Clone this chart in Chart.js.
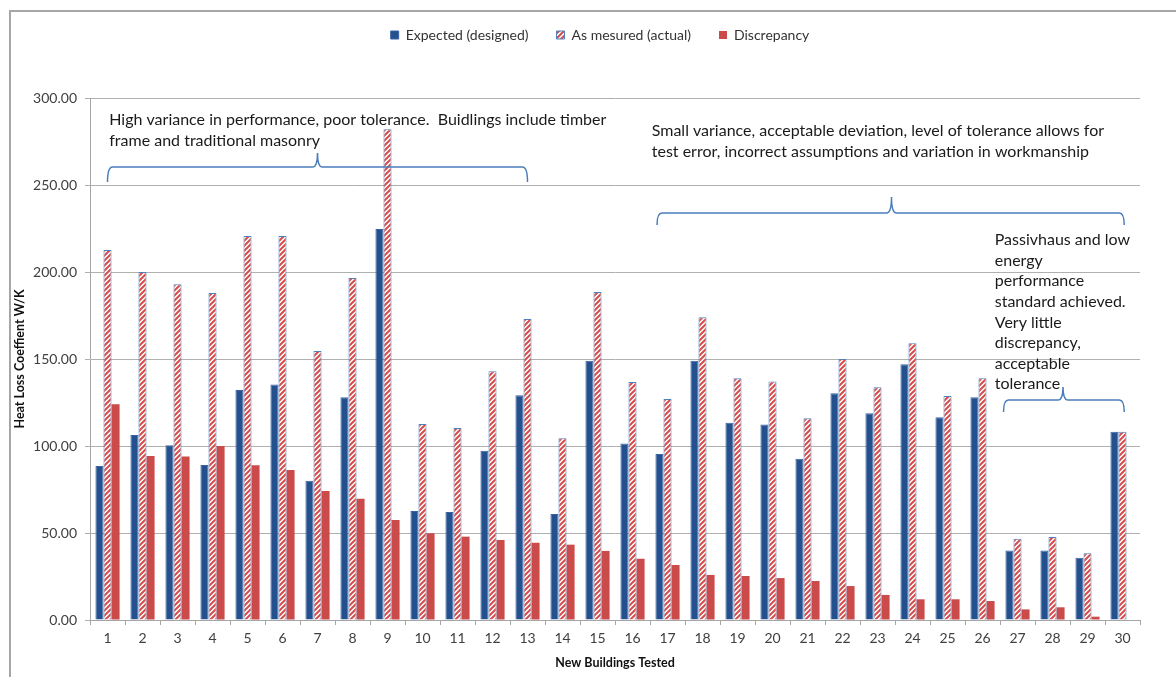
<!DOCTYPE html>
<html>
<head>
<meta charset="utf-8">
<script src="https://cdn.jsdelivr.net/npm/chart.js@4.4.1/dist/chart.umd.min.js"></script>
<style>
  html, body { margin: 0; padding: 0; background: #fff; }
  #wrap { width: 1176px; height: 677px; }
</style>
</head>
<body>
<div id="wrap"><canvas id="myChart"></canvas></div>
<script>
const buildings = ['1','2','3','4','5','6','7','8','9','10','11','12','13','14','15','16','17','18','19','20','21','22','23','24','25','26','27','28','29','30'];
const expected = [88.5, 106.3, 100.4, 89.1, 132.2, 135.4, 80, 128, 224.7, 62.6, 62, 97.3, 129.1, 60.9, 149, 101.5, 95.4, 149, 113.4, 112.3, 92.7, 130.3, 118.8, 147, 116.5, 128, 40, 40, 35.8, 108.2];
const actual = [212.6, 200, 193, 188, 220.7, 220.7, 154.6, 196.5, 282, 112.6, 110.3, 143, 173, 104.4, 188.5, 136.8, 127, 174, 139, 137, 115.9, 150, 133.7, 159, 128.7, 139, 46.7, 47.7, 38.3, 108.2];
const discrepancy = [124, 94.3, 93.9, 100, 89, 86.2, 74.1, 69.7, 57.5, 49.8, 47.9, 46, 44.4, 43.3, 39.7, 35.2, 31.6, 25.9, 25.3, 24.1, 22.4, 19.5, 14.4, 11.9, 11.9, 10.9, 6.1, 7.3, 1.9, 0];

// notes: [x index, y value of first line, lines]
const notes = [
  [0.05, 287.5, ['High variance in performance, poor tolerance.  Buidlings include timber', 'frame and traditional masonry']],
  [15.55, 281, ['Small variance, acceptable deviation, level of tolerance allows for', 'test error, incorrect assumptions and variation in workmanship']],
  [25.35, 218.4, ['Passivhaus and low', 'energy', 'performance', 'standard achieved.', 'Very little', 'discrepancy,', 'acceptable', 'tolerance']]
];
// braces: [from index, to index, tip index, line value, end value, tip value]
const braces = [
  [0, 12, 6, 260.3, 251.7, 268.4],
  [15.7, 29.05, 22.4, 233.9, 227, 243.1],
  [25.6, 29.05, 27.3, 126.4, 119.5, 133.9]
];

const FONT = 'Lato, "Open Sans", sans-serif';

function hatch() {
  const c = document.createElement('canvas');
  c.width = 5; c.height = 5;
  const g = c.getContext('2d');
  g.fillStyle = '#fff';
  g.fillRect(0, 0, 5, 5);
  g.strokeStyle = '#D64C4A';
  g.lineWidth = 2;
  g.beginPath();
  g.moveTo(-1, 6); g.lineTo(6, -1);
  g.moveTo(-3.5, 3.5); g.lineTo(3.5, -3.5);
  g.moveTo(1.5, 8.5); g.lineTo(8.5, 1.5);
  g.stroke();
  return g.createPattern(c, 'repeat');
}

const extras = {
  id: 'extras',
  beforeInit(chart) {
    const fit = chart.legend.fit;
    chart.legend.fit = function() {
      fit.call(this);
      this.height = 98;
    };
  },
  beforeDraw(chart) {
    // legend sits centred on the page, not on the padded box
    const lg = chart.legend;
    const w = lg.right - lg.left;
    lg.left = chart.width / 2 + 12 - w / 2;
    lg.right = lg.left + w;

    const ctx = chart.ctx;
    ctx.save();
    ctx.fillStyle = '#fff';
    ctx.fillRect(0, 0, chart.width, chart.height);
    ctx.strokeStyle = '#A6A6A6';
    ctx.lineWidth = 2;
    ctx.strokeRect(10, 11, chart.width + 20, chart.height + 20);
    ctx.restore();
  },
  afterDatasetsDraw(chart) {
    const ctx = chart.ctx;
    const x = chart.scales.x, y = chart.scales.y;
    ctx.save();
    ctx.fillStyle = '#1a1a1a';
    ctx.font = '16px ' + FONT;
    ctx.textBaseline = 'middle';
    notes.forEach(([xi, yv, lines]) => {
      const px = x.getPixelForValue(xi);
      const py = y.getPixelForValue(yv);
      lines.forEach((t, i) => ctx.fillText(t, px, py + i * (lines.length > 2 ? 20.6 : 21)));
    });
    ctx.strokeStyle = '#4A7EBB';
    ctx.lineWidth = 1.5;
    braces.forEach(([a, b, t, lv, ev, tv]) => {
      const x1 = x.getPixelForValue(a), x2 = x.getPixelForValue(b), xt = x.getPixelForValue(t);
      const yl = y.getPixelForValue(lv), ye = y.getPixelForValue(ev), yt = y.getPixelForValue(tv);
      const r = 5;
      ctx.beginPath();
      ctx.moveTo(x1, ye);
      ctx.quadraticCurveTo(x1, yl, x1 + r, yl);
      ctx.lineTo(xt - r, yl);
      ctx.quadraticCurveTo(xt, yl, xt, yt);
      ctx.quadraticCurveTo(xt, yl, xt + r, yl);
      ctx.lineTo(x2 - r, yl);
      ctx.quadraticCurveTo(x2, yl, x2, ye);
      ctx.stroke();
    });
    ctx.restore();
  }
};

const ctx = document.getElementById('myChart');

new Chart(ctx, {
  type: 'bar',
  data: {
    labels: buildings,
    datasets: [{
      label: 'Expected (designed)',
      data: expected,
      backgroundColor: '#24508E',
      borderColor: '#3763A6',
      borderWidth: 1
    }, {
      label: 'As mesured (actual)',
      data: actual,
      backgroundColor: hatch(),
      borderColor: '#4F81BD',
      borderWidth: 1
    }, {
      label: 'Discrepancy',
      data: discrepancy,
      backgroundColor: '#CB4A4A',
      borderColor: '#CB4A4A',
      borderWidth: 0
    }]
  },
  options: {
    responsive: true,
    maintainAspectRatio: false,
    animation: false,
    layout: { padding: { top: 0, left: 12, right: 36, bottom: 7 } },
    plugins: {
      tooltip: { enabled: false },
      legend: {
        position: 'top',
        labels: {
          boxWidth: 8,
          boxHeight: 8,
          padding: 28,
          color: '#333',
          font: { family: FONT, size: 14 }
        }
      }
    },
    datasets: { bar: { categoryPercentage: 0.69, barPercentage: 1.0 } },
    scales: {
      x: {
        grid: { display: true, drawOnChartArea: false, offset: true, tickLength: 5, color: '#A6A6A6' },
        border: { color: '#A6A6A6' },
        ticks: { color: '#404040', font: { family: FONT, size: 14 }, padding: 5, maxRotation: 0 },
        title: { display: true, text: 'New Buildings Tested', color: '#111', font: { family: FONT, size: 12.5, weight: 'bold' }, padding: { top: 2, bottom: 0 } },
        afterFit(s) { s.height = 50; }
      },
      y: {
        min: 0,
        max: 300,
        ticks: {
          stepSize: 50,
          color: '#404040',
          padding: 8,
          font: { family: FONT, size: 14 },
          callback: v => v.toFixed(2)
        },
        grid: { color: '#B0B0B0', tickLength: 5 },
        border: { color: '#A6A6A6' },
        title: { display: true, text: 'Heat Loss Coeffient W/K', color: '#111', font: { family: FONT, size: 12.5, weight: 'bold' }, padding: { top: 0, bottom: 2 } },
        afterFit(s) { s.width = 78; }
      }
    }
  },
  plugins: [extras]
});
</script>
</body>
</html>
